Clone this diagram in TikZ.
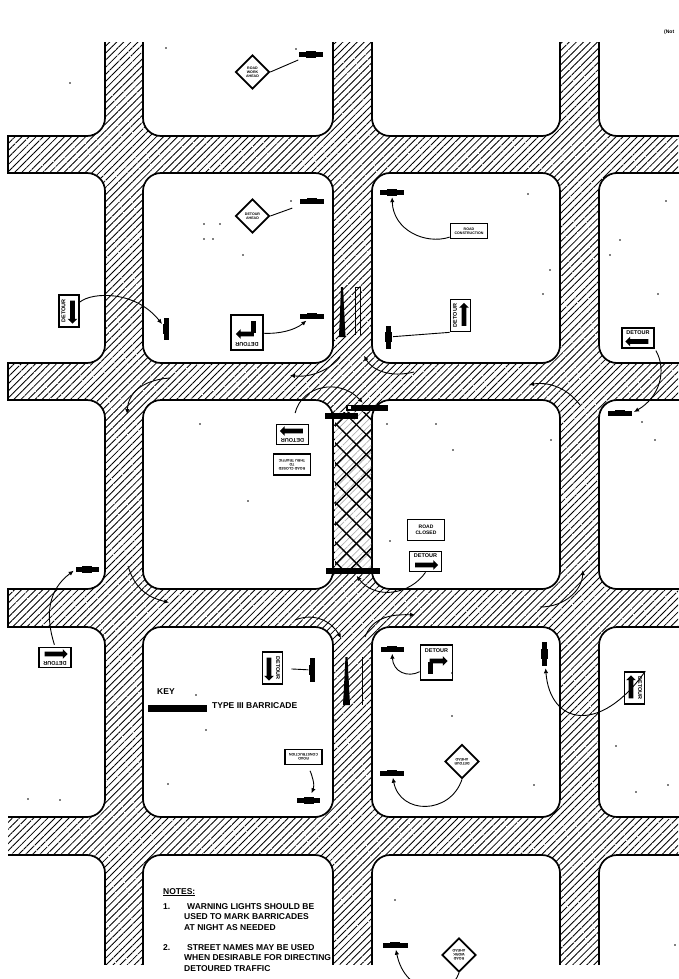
\documentclass[tikz,border=0pt]{standalone}
\usepackage{fontspec}
\setmainfont{Liberation Sans}
\usetikzlibrary{arrows.meta, patterns.meta, shapes.geometric, shapes.arrows}

\begin{document}
\begin{tikzpicture}[
  x=1pt, y=-1pt,
  >={Latex[length=5pt,width=4.5pt]},
  block/.style={draw, line width=1.7pt, fill=white, rounded corners=18pt},
  hatch/.style={pattern={Lines[angle=45,distance=5pt,line width=.85pt]}},
  speckle/.style={pattern={Dots[distance=6pt,radius=.7pt,angle=20]}, pattern color=white},
  crossing/.style={pattern={Lines[angle=#1,distance=14pt,line width=1.4pt]}},
  barricade/.style={fill=black, minimum height=5pt, inner sep=0pt},
  barbump/.style={fill=black, minimum width=10pt, minimum height=6.2pt, inner sep=0pt},
  signbox/.style={draw, line width=1.7pt, fill=white, inner sep=0pt},
  signtext/.style={font=\bfseries\fontsize{5.5}{6}\selectfont, inner sep=0pt},
  tinytext/.style={font=\bfseries\fontsize{3.6}{4.2}\selectfont, inner sep=0pt, align=center},
  signarrow/.style={single arrow, fill=black, inner xsep=0pt, inner ysep=2.2pt, minimum width=9.5pt,
    single arrow head extend=2.4pt, minimum height=#1},
  warnsign/.style={diamond, draw, line width=1.7pt, fill=white, aspect=1,
    minimum size=34pt, inner sep=0pt, font=\bfseries\fontsize{3.6}{4.2}\selectfont, align=center},
  notetext/.style={font=\bfseries\fontsize{8.5}{10.5}\selectfont, inner sep=0pt, align=left, anchor=north west},
  conn/.style={->, line width=.9pt, shorten >=2pt},
  plainconn/.style={line width=.9pt}
]
  \useasboundingbox (0,0) rectangle (678,979);

  %------------------------------------------------------------
  %  ROADS AND BLOCKS
  %------------------------------------------------------------
  \fill[hatch] (0,0) rectangle (678,979);
  \fill[speckle] (0,0) rectangle (678,979);
  \foreach \xa/\xb in {-60/105, 143/333, 372/560, 599/740} {
    \foreach \ya/\yb in {-60/136, 173/363, 400/589, 627/817, 855/1040} {
      \draw[block] (\xa,\ya) rectangle (\xb,\yb);
    }
  }
  % trim at the paper edges
  \fill[white] (0,0) rectangle (678,42);
  \fill[white] (0,965) rectangle (678,979);
  \fill[white] (0,0) rectangle (8,979);
  \foreach \ya/\yb in {136/173, 363/400, 589/627} {
    \draw[line width=1.7pt] (8,\ya-.85) -- (8,\yb+.85);
  }

  %------------------------------------------------------------
  %  CLOSED SECTION
  %------------------------------------------------------------
  \fill[white] (335,412) rectangle (371,572);
  \fill[pattern={Lines[angle=45,distance=5pt,line width=.7pt]}, pattern color=gray!60] (335,412) rectangle (371,572);
  \fill[speckle] (335,412) rectangle (371,572);
  \fill[crossing=45] (335,412) rectangle (371,572);
  \fill[crossing=-45] (335,412) rectangle (371,572);

  %------------------------------------------------------------
  %  TAPERS
  %------------------------------------------------------------
  \fill (341,287) -- (339,337) -- (345.5,337) -- (343,287) -- cycle;
  \draw[line width=.7pt] (355,335) -- (355,287) -- (360,287) -- (360,335);
  \fill (345.5,657) -- (343,705) -- (350,705) -- (347.5,657) -- cycle;
  \draw[line width=.7pt] (362,657) -- (362,705);

  %------------------------------------------------------------
  %  BARRICADES  (name/x/y/length/angle)
  %------------------------------------------------------------
  \foreach \n/\x/\y/\len/\ang in {brA/311/54.5/24/0, brB/312/201/24/0, brC/166/329/22/90,
      brD/312/316/24/0, brE/392/192.5/24/0, brF/388.5/337/23/90, brG/620/413/24/0,
      brH/87/569.5/23/0, brI/392/649/23/0, brJ/392/773/24/0, brK/544.5/654/24/90,
      brL/308.5/800.5/23/0, brP/312/670/24/90, brU/395/945/25/0} {
    \node[barricade, minimum width=\len pt, rotate=\ang] (\n) at (\x,\y) {};
    \node[barbump, rotate=\ang] (\n b) at (\x,\y) {};
  }
  \node[barricade, minimum width=33pt, minimum height=6pt] (brTa) at (341.5,416) {};
  \node[barricade, minimum width=42pt, minimum height=6pt] (brTb) at (367,407.5) {};
  \node[barricade, minimum width=54pt, minimum height=6pt] (brBot) at (353,571) {};
  \node[fill=white, minimum width=3pt, minimum height=3pt, inner sep=0pt] (brTc) at (349,407.5) {};

  %------------------------------------------------------------
  %  DETOUR SIGNS  (name/x/y/sign angle/arrow direction)
  %------------------------------------------------------------
  \foreach \n/\x/\y/\ang/\dir in {sgC/69/311/90/180, sgF/460.5/315.5/90/0, sgG/638/338/0/180,
      sgH/55/657.5/180/180, sgK/634.5/688/-90/180, sgN/292.5/434.5/180/0,
      sgO/425.5/561.5/0/0, sgP/272.5/668/-90/0} {
    \begin{scope}[shift={(\x,\y)}, rotate=\ang, transform shape]
      \node[signbox, minimum width=32pt, minimum height=20pt] (\n) at (0,0) {};
      \node[signtext] (\n t) at (0,-5.5) {DETOUR};
      \node[signarrow=23pt, shape border rotate=\dir] (\n a) at (0,3.5) {};
    \end{scope}
  }

  %------------------------------------------------------------
  %  TURN SIGNS
  %------------------------------------------------------------
  \foreach \n/\x/\y/\ang in {sgD/247/332.5/180, sgM/436.5/662.5/0} {
    \begin{scope}[shift={(\x,\y)}, rotate=\ang, transform shape]
      \node[signbox, minimum width=32pt, minimum height=35pt] (\n) at (0,0) {};
      \node[signtext] (\n t) at (0,-12) {DETOUR};
      \node[signarrow=18pt] (\n a) at (1,-1.5) {};
      \node[fill=black, minimum width=5pt, minimum height=12pt, inner sep=0pt] (\n s) at (-6,5.5) {};
    \end{scope}
  }

  %------------------------------------------------------------
  %  WORD SIGNS
  %------------------------------------------------------------
  \node[signbox, minimum width=37pt, minimum height=15pt, tinytext] (sgE) at (469,231) {ROAD\\CONSTRUCTION};
  \node[signbox, minimum width=37pt, minimum height=15pt, tinytext, rotate=180] (sgL) at (303.5,757) {ROAD\\CONSTRUCTION};
  \node[signbox, minimum width=37pt, minimum height=21pt, tinytext, rotate=180] (sgQ) at (292,464.5) {ROAD CLOSED\\TO\\THRU TRAFFIC};
  \node[signbox, minimum width=37pt, minimum height=21pt, tinytext, font=\bfseries\fontsize{5}{6.5}\selectfont] (sgR) at (426,530) {ROAD\\CLOSED};

  \node[warnsign] (dmA) at (252.5,72) {ROAD\\WORK\\AHEAD};
  \node[warnsign] (dmB) at (252.5,216) {DETOUR\\AHEAD};
  \node[warnsign, rotate=180] (dmJ) at (462,761.5) {DETOUR\\AHEAD};
  \node[warnsign, rotate=180] (dmU) at (459,955) {ROAD\\WORK\\AHEAD};

  %------------------------------------------------------------
  %  SIGN TO BARRICADE
  %------------------------------------------------------------
  \draw[plainconn, shorten >=7pt] (dmA.east) -- (brA);
  \draw[plainconn, shorten >=13pt] (dmB.east) -- (brB);
  \draw[conn] (sgC) .. controls (92,292) and (135,290) .. (brC);
  \draw[conn, shorten >=3pt] (sgD) .. controls (280,334) and (295,330) .. (brD);
  \draw[conn] (sgE) .. controls (425,245) and (393,230) .. (brE);
  \draw[plainconn, shorten >=2pt] (sgF.north west) -- (brF);
  \draw[conn, shorten <=2pt] (sgG.south east) .. controls (667,370) and (660,397) .. (brG.east);
  \draw[conn, shorten <=2pt] (sgH.south) .. controls (45,615) and (48,590) .. (brH.west);
  \draw[conn] (sgM) .. controls (408,678) and (393,672) .. (brI);
  \draw[conn] (dmJ.north) .. controls (450,815) and (400,815) .. (brJ);
  \draw[conn] (sgK.north west) .. controls (600,735) and (550,725) .. (brK);
  \draw[conn, shorten <=6pt, shorten >=5pt] (sgL) .. controls (312,775) and (315,785) .. (brL);
  \draw[plainconn, shorten <=8pt, shorten >=1pt] (sgP) -- (brP);
  \draw[conn] (dmU.north) .. controls (450,1000) and (405,995) .. (brU);
  \draw[conn, shorten <=11pt] (sgN.south) .. controls (302,385) and (340,378) .. (brTb);
  \draw[conn] (sgO.south) .. controls (410,595) and (375,600) .. (brBot);

  %------------------------------------------------------------
  %  TRAFFIC ARROWS IN THE ROADS
  %------------------------------------------------------------
  \coordinate (taA) at (170,378);   \coordinate (taB) at (127,416);
  \coordinate (taC) at (128,566);   \coordinate (taD) at (171,603);
  \coordinate (taE) at (340,357);   \coordinate (taF) at (288,375);
  \coordinate (taG) at (414,372);   \coordinate (taH) at (363,354);
  \coordinate (taI) at (580,405);   \coordinate (taJ) at (527,385);
  \coordinate (taK) at (540,607);   \coordinate (taL) at (583,568);
  \coordinate (taM) at (295,620);   \coordinate (taN) at (342,640);
  \coordinate (taO) at (365,637);   \coordinate (taP) at (417,615);
  \draw[conn] (taA) .. controls (140,380) and (128,395) .. (taB);
  \draw[conn] (taC) .. controls (135,590) and (150,598) .. (taD);
  \draw[conn] (taE) .. controls (330,370) and (310,378) .. (taF);
  \draw[conn] (taG) .. controls (390,378) and (372,370) .. (taH);
  \draw[conn] (taI) .. controls (565,385) and (545,382) .. (taJ);
  \draw[conn] (taK) .. controls (565,607) and (582,590) .. (taL);
  \draw[conn] (taM) .. controls (315,612) and (332,622) .. (taN);
  \draw[conn] (taO) .. controls (372,618) and (390,614) .. (taP);

  %------------------------------------------------------------
  %  KEY AND NOTES
  %------------------------------------------------------------
  \node[notetext] (kyA) at (157,688) {KEY};
  \node[barricade, minimum width=59pt, minimum height=7pt] (kyB) at (177.5,708) {};
  \node[notetext] (kyC) at (212,702) {TYPE III BARRICADE};
  \node[notetext] (ntA) at (163,888) {\underline{NOTES:}};
  \node[notetext] (ntB) at (163,903) {1.};
  \node[notetext] (ntC) at (184,903) {\hspace*{3pt}WARNING LIGHTS SHOULD BE\\USED TO MARK BARRICADES\\AT NIGHT AS NEEDED};
  \node[notetext] (ntD) at (163,944) {2.};
  \node[notetext] (ntE) at (184,944) {\hspace*{3pt}STREET NAMES MAY BE USED\\WHEN DESIRABLE FOR DIRECTING\\DETOURED TRAFFIC};
  \node[notetext, font=\bfseries\fontsize{5}{6}\selectfont] (ntF) at (664,30) {(Not};

  %------------------------------------------------------------
  %  SCAN SPECKS
  %------------------------------------------------------------
  \foreach \x/\y in {166/48, 70/83, 296/49, 204/224, 220/224, 204/239, 213/239, 243/255,
      291/201, 528/194, 666/201, 620/240, 610/255, 658/294, 550/270, 543/294, 436/424,
      387/424, 551/440, 642/422, 655/440, 200/424, 248/501, 390/541, 453/450, 452/673,
      452/716, 335/720, 534/785, 636/792, 668/785, 616/746, 168/784, 28/799, 206/730, 196/695,
      60/800, 395/900, 675/945} {
    \fill (\x,\y) circle (.9pt);
  }
\end{tikzpicture}
\end{document}
